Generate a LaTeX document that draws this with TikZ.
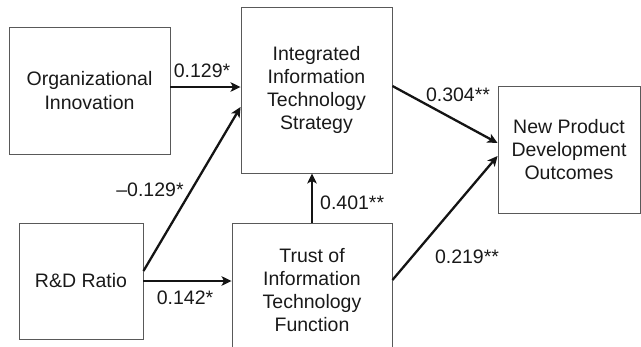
\documentclass[tikz,border=0pt]{standalone}
\usepackage{fontspec}
\setmainfont{Liberation Sans}
\usetikzlibrary{arrows.meta}
\begin{document}
\begin{tikzpicture}[x=1pt,y=-1pt,
  box/.style={draw=black!65,line width=0.9pt,inner sep=0pt,align=center,
    text=black!90,font=\fontsize{19.5}{23.3}\selectfont},
  lbl/.style={inner sep=0pt,text=black!90,font=\fontsize{19.5}{23.3}\selectfont},
  arr/.style={line width=2.3pt,draw=black!92,-{Stealth[length=10pt,width=9.5pt,inset=2.5pt]}}]
\useasboundingbox (0,0) rectangle (641,346);
\node[box,minimum width=161pt,minimum height=127pt] (org) at (89.5,90.5) {Organizational\\Innovation};
\node[box,minimum width=151pt,minimum height=166pt] (intg) at (316.5,90) {Integrated\\Information\\Technology\\Strategy};
\node[box,minimum width=142pt,minimum height=127pt] (npd) at (569,149.5) {New Product\\Development\\Outcomes};
\node[box,minimum width=124pt,minimum height=116pt] (rd) at (81,281) {R\&D Ratio};
\node[box,minimum width=160pt,minimum height=134pt] (trust) at (312,290) {Trust of\\Information\\Technology\\Function};
% connectors
\draw[arr] ([yshift=3.5pt]org.east) -- ([yshift=3.5pt]org.east -| intg.west);
\draw[arr] ([yshift=10pt]rd.east) -- ([yshift=-17pt]intg.west);
\draw[arr] (rd.east) -- (rd.east -| trust.west);
\draw[arr] (trust.north) -- (trust.north |- intg.south);
\draw[arr] ([yshift=4pt]intg.east) -- ([yshift=6.5pt]npd.west);
\draw[arr] ([yshift=10pt]trust.east) -- ([yshift=-6.5pt]npd.west);
% labels
\node[lbl] (l1) at (202,71) {0.129*};
\node[lbl] (l2) at (150,190) {\textendash0.129*};
\node[lbl] (l3) at (185,298) {0.142*};
\node[lbl,anchor=west] (l4) at (320,203) {0.401**};
\node[lbl] (l5) at (458,95) {0.304**};
\node[lbl] (l6) at (467,257) {0.219**};
\end{tikzpicture}
\end{document}
